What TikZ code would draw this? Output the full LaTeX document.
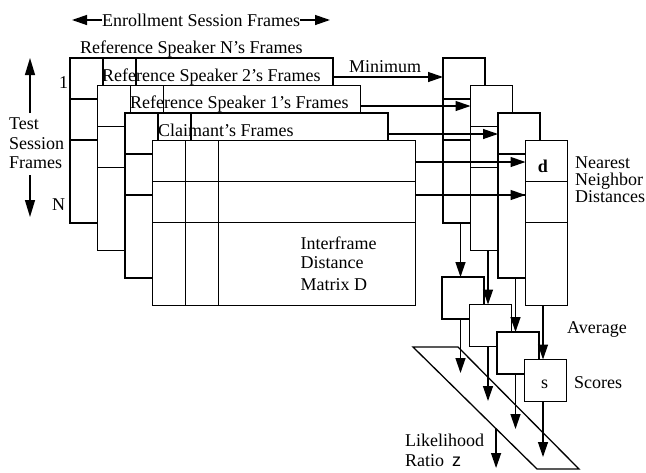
\documentclass[tikz,border=0pt]{standalone}
\usepackage{fontspec}
\setmainfont{Liberation Serif}
\newfontfamily\sansz{Liberation Sans}
\usetikzlibrary{arrows.meta,calc}
\begin{document}
\begin{tikzpicture}[x=1pt,y=-1pt,
  frm/.style={draw, fill=white, line width=1.3pt, inner sep=0pt, outer sep=0pt, anchor=north west},
  mat/.style={frm, minimum width=263pt, minimum height=165pt},
  colbox/.style={frm, minimum width=42pt, minimum height=165pt},
  avgbox/.style={frm, minimum width=42pt, minimum height=42pt},
  gridline/.style={line width=1.1pt},
  arr/.style={line width=1.3pt, -{Triangle[length=15pt,width=10pt]}},
  bigarr/.style={line width=1.3pt, -{Triangle[length=17pt,width=10pt]}},
  lbl/.style={font=\fontsize{18}{20}\selectfont, inner sep=0pt, anchor=base west},
]
\useasboundingbox (0,0) rectangle (646,472);

% stacked distance matrices
\foreach \nm/\x/\y in {mN/70/58, m2/97.5/85.5, m1/125/113, mC/152.5/140.5} {
  \node[mat] (\nm) at (\x,\y) {};
  \draw[gridline] ([xshift=33pt]\nm.north west) -- ([xshift=33pt]\nm.south west)
                  ([xshift=66pt]\nm.north west) -- ([xshift=66pt]\nm.south west)
                  ([yshift=-41pt]\nm.north west) -- ([yshift=-41pt]\nm.north east)
                  ([yshift=-82pt]\nm.north west) -- ([yshift=-82pt]\nm.north east);
}

% nearest-neighbour columns
\foreach \nm/\x/\y in {cN/443/58, c2/470.5/85.5, c1/498/113, cD/525.5/140.5} {
  \node[colbox] (\nm) at (\x,\y) {};
  \draw[gridline] ([yshift=-41pt]\nm.north west) -- ([yshift=-41pt]\nm.north east)
                  ([yshift=-82pt]\nm.north west) -- ([yshift=-82pt]\nm.north east);
}

% likelihood band
\coordinate (b1) at (413,347);
\coordinate (b2) at (458,347);
\coordinate (b3) at (579,469);
\coordinate (b4) at (537,469);
\draw[line width=1.3pt] (b1) -- (b2) -- (b3) -- (b4) -- cycle;

% average boxes
\node[avgbox] (aN) at (442,277) {};
\node[avgbox] (a2) at (469.5,304.5) {};
\node[avgbox] (a1) at (497,332) {};
\node[avgbox] (aS) at (524.5,359.5) {};

% horizontal "minimum" arrows
\coordinate (hN) at ([yshift=-19pt]mN.north east);
\coordinate (h2) at ([yshift=-20.5pt]m2.north east);
\coordinate (h1) at ([yshift=-21pt]m1.north east);
\coordinate (hC) at ([yshift=-21.5pt]mC.north east);
\coordinate (hD) at ([yshift=-54.5pt]mC.north east);
\draw[arr] (hN) -- (hN -| cN.west);
\draw[arr] (h2) -- (h2 -| c2.west);
\draw[arr] (h1) -- (h1 -| c1.west);
\draw[arr] (hC) -- (hC -| cD.west);
\draw[arr] (hD) -- (hD -| cD.west);

% vertical arrows columns -> averages
\coordinate (vN) at ([xshift=17.5pt]cN.south west);
\coordinate (v2) at ([xshift=17.5pt]c2.south west);
\coordinate (v1) at ([xshift=17.5pt]c1.south west);
\coordinate (vD) at ([xshift=17.5pt]cD.south west);
\draw[arr] (vN) -- (vN |- aN.north);
\draw[arr] (v2) -- (v2 |- a2.north);
\draw[arr] (v1) -- (v1 |- a1.north);
\draw[arr] (vD) -- (vD |- aS.north);

% averages -> band
\coordinate (pN) at (460.5,373);
\coordinate (p2) at (488,401);
\coordinate (p1) at (515.5,429);
\coordinate (pS) at (543,457);
\draw[arr] (pN |- aN.south) -- (pN);
\draw[arr] (p2 |- a2.south) -- (p2);
\draw[arr] (p1 |- a1.south) -- (p1);
\draw[arr] (pS |- aS.south) -- (pS);

% likelihood ratio output
\coordinate (lzA) at ($(b1)!0.67!(b4)$);
\coordinate (lzB) at (496,468);
\draw[arr] (lzA) -- (lzA |- lzB);

% labels
\node[lbl, anchor=base] (enr) at (201,26) {Enrollment Session Frames};
\coordinate (eL) at (72,20);
\coordinate (eR) at (330,20);
\draw[arr] (enr.west |- eL) -- (eL);
\draw[arr] (enr.east |- eR) -- (eR);

\node[lbl] (tN) at (80,53.5) {Reference Speaker N's Frames};
\node[lbl] (t2) at (102,81) {Reference Speaker 2's Frames};
\node[lbl] (t1) at (130,108.5) {Reference Speaker 1's Frames};
\node[lbl] (tC) at (158,136) {Claimant's Frames};

\node[lbl] (test) at (9,129) {Test};
\node[lbl] (sess) at (9,149) {Session};
\node[lbl] (fram) at (9,168) {Frames};
\coordinate (uA) at (30,113);
\coordinate (uB) at (30,58);
\coordinate (dA) at (30,175);
\coordinate (dB) at (30,217);
\draw[bigarr] (uA) -- (uB);
\draw[bigarr] (dA) -- (dB);
\node[lbl] (one) at (59,88) {1};
\node[lbl] (enn) at (52,210) {N};

\node[lbl] (mini) at (349,72) {Minimum};
\node[lbl] (near1) at (575,168) {Nearest};
\node[lbl] (near2) at (575,185.5) {Neighbor};
\node[lbl] (near3) at (575,202) {Distances};
\node[lbl, anchor=base, font=\fontsize{18}{20}\selectfont\bfseries] (dd) at (543,172) {d};

\node[lbl] (if1) at (300.5,249) {Interframe};
\node[lbl] (if2) at (300.5,268) {Distance};
\node[lbl] (if3) at (300.5,290.5) {Matrix D};

\node[lbl] (avg) at (567,333) {Average};
\node[lbl] (sco) at (574,388) {Scores};
\node[lbl, anchor=base] (ss) at (544.5,388) {s};

\node[lbl] (lik) at (405,446.5) {Likelihood};
\node[lbl] (rat) at (405,466.5) {Ratio\hspace{8pt}{\sansz z}};
\end{tikzpicture}
\end{document}
